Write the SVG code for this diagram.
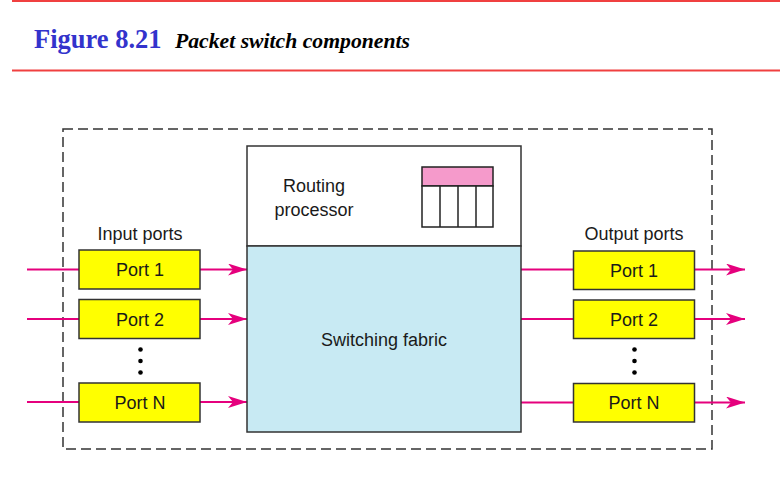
<svg xmlns="http://www.w3.org/2000/svg" width="780" height="477" viewBox="0 0 780 477">
<defs>
<marker id="ah" markerWidth="20" markerHeight="12" refX="19" refY="6" orient="auto" markerUnits="userSpaceOnUse">
<path d="M0,0 L19,6 L0,12 L5,6 Z" fill="#E5007D"/>
</marker>
<style>
.port{fill:#FFFF00;stroke:#333;stroke-width:1.5}
.lbl{font-family:"Liberation Sans","Open Sans",sans-serif;font-size:18px;fill:#1a1a1a;text-anchor:middle}
.conn{stroke:#E5007D;stroke-width:2;fill:none}
.dot{fill:#000}
</style>
</defs>
<rect width="780" height="477" fill="#fff"/>
<line x1="12" y1="1" x2="780" y2="1" stroke="#F04040" stroke-width="2"/>
<line x1="12" y1="70.5" x2="780" y2="70.5" stroke="#F04040" stroke-width="2"/>
<text x="34" y="48" font-family="Liberation Serif,serif" font-weight="bold" font-size="26.5" fill="#3333CC">Figure 8.21</text>
<text x="175" y="48" font-family="Liberation Serif,serif" font-weight="bold" font-style="italic" font-size="21.7" fill="#000">Packet switch components</text>

<rect id="boundary" x="63" y="129" width="649" height="320" fill="none" stroke="#333" stroke-width="1.5" stroke-dasharray="10,5"/>

<g id="connectors">
<line class="conn" x1="27" y1="269.5" x2="79" y2="269.5"/>
<line class="conn" x1="200" y1="269.5" x2="247" y2="269.5" marker-end="url(#ah)"/>
<line class="conn" x1="27" y1="319" x2="79" y2="319"/>
<line class="conn" x1="200" y1="319" x2="247" y2="319" marker-end="url(#ah)"/>
<line class="conn" x1="27" y1="402" x2="79" y2="402"/>
<line class="conn" x1="200" y1="402" x2="247" y2="402" marker-end="url(#ah)"/>
<line class="conn" x1="521" y1="269.5" x2="573" y2="269.5"/>
<line class="conn" x1="695" y1="269.5" x2="745" y2="269.5" marker-end="url(#ah)"/>
<line class="conn" x1="521" y1="319" x2="573" y2="319"/>
<line class="conn" x1="695" y1="319" x2="745" y2="319" marker-end="url(#ah)"/>
<line class="conn" x1="521" y1="402.5" x2="573" y2="402.5"/>
<line class="conn" x1="695" y1="402.5" x2="745" y2="402.5" marker-end="url(#ah)"/>
</g>

<g id="routing-processor">
<rect x="247" y="146" width="274" height="100" fill="#fff" stroke="#333" stroke-width="1.5"/>
<text class="lbl" x="314" y="192">Routing</text>
<text class="lbl" x="314" y="216">processor</text>
<rect x="422" y="167" width="71" height="19" fill="#F59ACB" stroke="#222" stroke-width="1.5"/>
<rect x="422" y="186" width="71" height="41" fill="#fff" stroke="#222" stroke-width="1.5"/>
<line x1="440" y1="186" x2="440" y2="227" stroke="#222" stroke-width="1.5"/>
<line x1="458" y1="186" x2="458" y2="227" stroke="#222" stroke-width="1.5"/>
<line x1="476" y1="186" x2="476" y2="227" stroke="#222" stroke-width="1.5"/>
</g>

<g id="switching-fabric">
<rect x="247" y="246" width="274" height="186" fill="#C8EAF3" stroke="#333" stroke-width="1.5"/>
<text class="lbl" x="384" y="346">Switching fabric</text>
</g>

<g id="input-ports">
<text class="lbl" x="140" y="240">Input ports</text>
<g id="in-port1"><rect class="port" x="79" y="250" width="121" height="39"/><text class="lbl" x="140" y="276">Port 1</text></g>
<g id="in-port2"><rect class="port" x="79" y="299.5" width="121" height="39"/><text class="lbl" x="140" y="325.5">Port 2</text></g>
<circle class="dot" cx="140.5" cy="349.5" r="2.3"/>
<circle class="dot" cx="140.5" cy="361" r="2.3"/>
<circle class="dot" cx="140.5" cy="372.5" r="2.3"/>
<g id="in-portN"><rect class="port" x="79" y="383" width="121" height="39"/><text class="lbl" x="140" y="409">Port N</text></g>
</g>

<g id="output-ports">
<text class="lbl" x="634" y="240">Output ports</text>
<g id="out-port1"><rect class="port" x="573.5" y="251" width="121" height="38.5"/><text class="lbl" x="634" y="276.5">Port 1</text></g>
<g id="out-port2"><rect class="port" x="573.5" y="300" width="121" height="38.5"/><text class="lbl" x="634" y="325.5">Port 2</text></g>
<circle class="dot" cx="634.5" cy="349.5" r="2.3"/>
<circle class="dot" cx="634.5" cy="361" r="2.3"/>
<circle class="dot" cx="634.5" cy="372.5" r="2.3"/>
<g id="out-portN"><rect class="port" x="573.5" y="383.5" width="121" height="38.5"/><text class="lbl" x="634" y="409">Port N</text></g>
</g>
</svg>
